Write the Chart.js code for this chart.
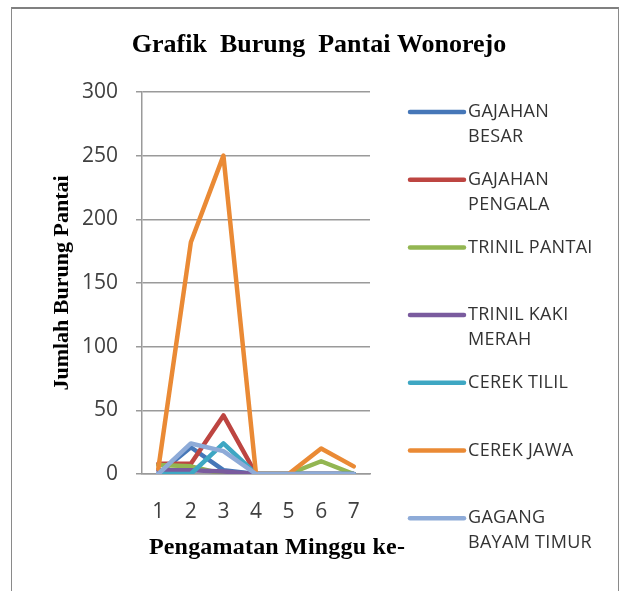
<!DOCTYPE html>
<html>
<head>
<meta charset="utf-8">
<script src="https://cdn.jsdelivr.net/npm/chart.js@4"></script>
<style>
  html, body { margin: 0; padding: 0; background: #fff; }
  #wrap { position: relative; width: 624px; height: 591px; }
  #frame { position: absolute; left: 11px; top: 7px; width: 608px; height: 590px;
           border: 1.5px solid #8a8a8a; border-top: 2px solid #808080; border-bottom: none; box-sizing: border-box; }
  canvas { position: absolute; left: 0; top: 0; }
</style>
</head>
<body>
<div id="wrap">
  <div id="frame"></div>
  <canvas id="chart" width="624" height="591"></canvas>
</div>
<script>
// minggu pengamatan
const weeks = ["1", "2", "3", "4", "5", "6", "7"];

// jumlah burung per jenis
const gajahanBesar = [0, 21, 3, 0, 0, 0, 0];
const gajahanPengala = [8, 8, 46, 0, 0, 0, 0];
const trinilPantai = [7, 6, 0, 0, 0, 10, 0];
const trinilKakiMerah = [3, 3, 2, 0, 0, 0, 0];
const cerekTilil = [0, 0, 24, 0, 0, 0, 0];
const cerekJawa = [4, 182, 250, 0, 0, 20, 6];
const gagangBayamTimur = [0, 24, 18, 0, 0, 0, 0];

const yTicks = [0, 50, 100, 150, 200, 250, 300];

const series = [
  { label: ["GAJAHAN", "BESAR"], data: gajahanBesar, color: "#4677b8" },
  { label: ["GAJAHAN", "PENGALA"], data: gajahanPengala, color: "#bd4541" },
  { label: ["TRINIL PANTAI"], data: trinilPantai, color: "#93b652" },
  { label: ["TRINIL KAKI", "MERAH"], data: trinilKakiMerah, color: "#7a5b9e" },
  { label: ["CEREK TILIL"], data: cerekTilil, color: "#3ea7c3" },
  { label: ["CEREK JAWA"], data: cerekJawa, color: "#ea8a35" },
  { label: ["GAGANG", "BAYAM TIMUR"], data: gagangBayamTimur, color: "#8eabd8" },
];

const chartTitle = "Grafik  Burung  Pantai Wonorejo";
const xTitle = "Pengamatan Minggu ke-";

// judul utama dan judul sumbu x
const titles = {
  id: "titles",
  afterDraw(chart) {
    const ctx = chart.ctx;
    ctx.save();
    ctx.fillStyle = "#000";
    ctx.textAlign = "center";
    ctx.textBaseline = "middle";
    ctx.font = "bold 26px 'Liberation Serif'";
    ctx.fillText(chartTitle, 319, 45);
    ctx.font = "bold 24px 'Liberation Serif'";
    ctx.letterSpacing = "0.2px";
    ctx.fillText(xTitle, 277, 548);
    ctx.restore();
  },
};

// legenda digambar sendiri di sebelah kanan
const sideLegend = {
  id: "sideLegend",
  afterDraw(chart) {
    const ctx = chart.ctx;
    const x0 = 410, x1 = 464, tx = 468;
    const y0 = 112, step = 67.7, lh = 25;
    ctx.save();
    ctx.font = "18px 'Open Sans'";
    ctx.letterSpacing = "0.3px";
    ctx.textBaseline = "middle";
    ctx.fillStyle = "#333";
    chart.data.datasets.forEach((ds, i) => {
      const y = y0 + i * step;
      ctx.strokeStyle = ds.borderColor;
      ctx.lineWidth = 4.5;
      ctx.lineCap = "round";
      ctx.beginPath();
      ctx.moveTo(x0, y);
      ctx.lineTo(x1, y);
      ctx.stroke();
      ds.label.forEach((line, j) => ctx.fillText(line, tx, y + j * lh));
    });
    ctx.restore();
  },
};

document.addEventListener("DOMContentLoaded", function () {
  const ctx = document.getElementById("chart").getContext("2d");

  new Chart(ctx, {
    type: "line",
    data: {
      labels: weeks,
      datasets: series.map((s, i) => ({
        label: s.label,
        data: s.data,
        borderColor: s.color,
        backgroundColor: s.color,
        borderWidth: 4.5,
        borderJoinStyle: "round",
        borderCapStyle: "round",
        pointRadius: 0,
        tension: 0,
        order: series.length - i,
      })),
    },
    plugins: [titles, sideLegend],
    options: {
      responsive: false,
      animation: false,
      layout: { padding: { left: 0, top: 92, right: 254, bottom: 0 } },
      plugins: {
        legend: { display: false },
        tooltip: { enabled: false },
        title: { display: false },
      },
      scales: {
        x: {
          type: "category",
          offset: true,
          grid: { display: false, drawTicks: false },
          border: { display: true, color: "#9a9a9a", width: 1.5 },
          ticks: {
            color: "#404040",
            font: { family: "'Open Sans'", size: 21 },
            padding: 25,
            maxRotation: 0,
          },
          afterFit(scale) {
            scale.height = 117;
          },
        },
        y: {
          min: 0,
          max: 300,
          afterBuildTicks(scale) {
            scale.ticks = yTicks.map((v) => ({ value: v }));
          },
          grid: { color: "#9a9a9a", lineWidth: 1.5, tickLength: 6 },
          border: { display: true, color: "#9a9a9a", width: 1.5 },
          ticks: {
            color: "#404040",
            font: { family: "'Open Sans'", size: 21 },
            padding: 18,
          },
          title: {
            display: true,
            text: "Jumlah Burung Pantai",
            color: "#000",
            font: { family: "'Liberation Serif'", size: 22, weight: "bold" },
            padding: { top: 49, bottom: 0 },
          },
          afterFit(scale) {
            scale.width = 142;
          },
        },
      },
    },
  });
});
</script>
</body>
</html>
